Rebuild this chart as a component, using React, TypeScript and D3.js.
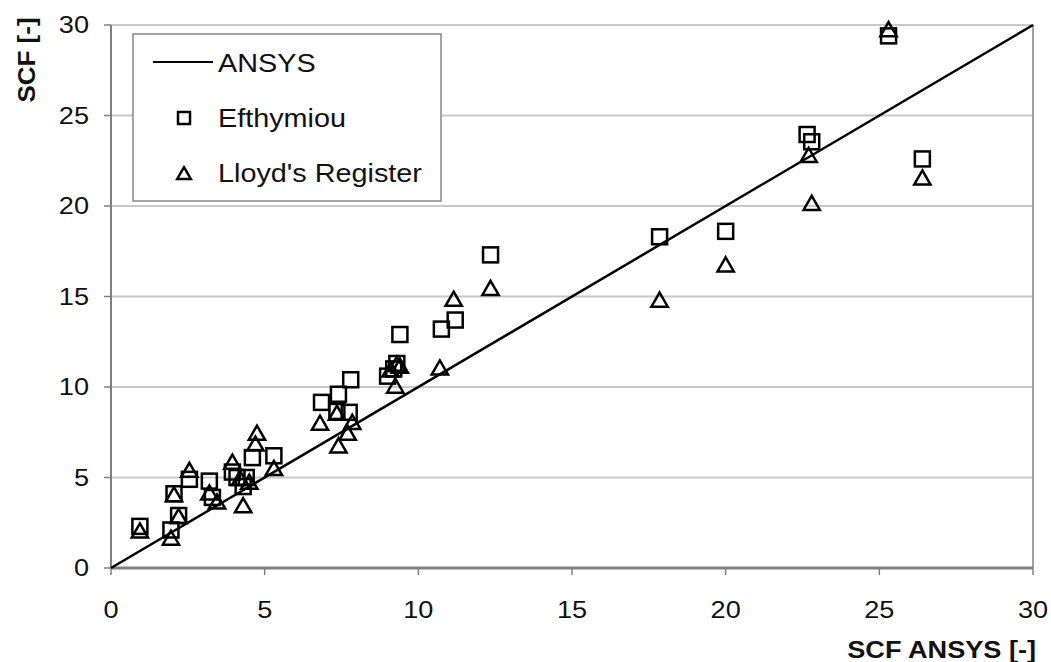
import * as d3 from 'd3';
import React from 'react';

// [SCF ANSYS, SCF formula]
const efthymiou: [number, number][] = [
  [0.94, 2.3], [1.95, 2.1], [2.05, 4.1], [2.2, 2.9], [2.55, 4.9], [3.2, 4.8],
  [3.3, 3.9], [3.95, 5.3], [4.1, 5.0], [4.3, 4.5], [4.4, 5.0], [4.6, 6.1],
  [5.3, 6.2], [6.85, 9.15], [7.35, 8.65], [7.4, 9.6], [7.75, 8.6], [7.8, 10.4],
  [9.0, 10.6], [9.2, 11.0], [9.3, 11.3], [9.4, 12.9], [10.75, 13.2], [11.2, 13.7],
  [12.35, 17.3], [17.85, 18.3], [20.0, 18.6], [22.65, 23.95], [22.8, 23.55],
  [25.3, 29.4], [26.4, 22.6],
];

const lloyds: [number, number][] = [
  [0.94, 2.0], [1.95, 1.6], [2.05, 4.0], [2.2, 2.8], [2.55, 5.35], [3.2, 4.1],
  [3.45, 3.6], [3.95, 5.8], [4.2, 4.9], [4.3, 3.4], [4.5, 4.7], [4.75, 7.4],
  [4.7, 6.8], [5.3, 5.45], [6.8, 7.95], [7.35, 8.5], [7.4, 6.7], [7.7, 7.4],
  [7.85, 8.0], [9.1, 10.9], [9.25, 10.0], [9.3, 11.2], [9.4, 11.1], [10.7, 11.0],
  [11.15, 14.8], [12.35, 15.4], [17.85, 14.75], [20.0, 16.7], [22.7, 22.75],
  [22.8, 20.1], [25.3, 29.7], [26.4, 21.5],
];

const ansysLine: [number, number][] = [[0, 0], [30, 30]];
const xTicks = [0, 5, 10, 15, 20, 25, 30];
const yTicks = [0, 5, 10, 15, 20, 25, 30];

const W = 1051;
const H = 662;
const left = 111, right = 1033, top = 25, bottom = 568;
const font = 'Arial, "Liberation Sans", sans-serif';

// text slightly stretched sideways, like the scanned figure
function T({ x, y, size, anchor = 'start', bold = false, rotate = 0, children }: any) {
  return (
    <text transform={`translate(${x},${y}) rotate(${rotate}) scale(1.13,1)`} textAnchor={anchor}
      fontSize={size} fontWeight={bold ? 'bold' : 'normal'} fontFamily={font} fill="#111">{children}</text>
  );
}

export default function App() {
  const x = d3.scaleLinear().domain([0, 30]).range([left, right]);
  const y = d3.scaleLinear().domain([0, 30]).range([bottom, top]);
  const line = d3.line<[number, number]>().x(d => x(d[0])).y(d => y(d[1]));
  const tri = d3.symbol().type(d3.symbolTriangle).size(115)();
  const sq = 15;

  return (
    <svg width={W} height={H} style={{ position: 'absolute', left: 0, top: 0, background: '#fff' }}>
      {/* grid */}
      {yTicks.slice(1).map(t => (
        <line key={'g' + t} x1={left} x2={right} y1={y(t)} y2={y(t)} stroke="#c8c8c8" strokeWidth={2} />
      ))}
      <line x1={right} x2={right} y1={top} y2={bottom} stroke="#a0a0a0" strokeWidth={2} />

      {/* axes */}
      <line x1={left} x2={left} y1={top} y2={bottom} stroke="#808080" strokeWidth={2} />
      <line x1={left} x2={right} y1={bottom} y2={bottom} stroke="#808080" strokeWidth={3} />
      {xTicks.map(t => (
        <g key={'x' + t}>
          <line x1={x(t)} x2={x(t)} y1={bottom} y2={bottom + 7} stroke="#808080" strokeWidth={1.5} />
          <T x={x(t)} y={618} size={24} anchor="middle">{t}</T>
        </g>
      ))}
      {yTicks.map(t => (
        <g key={'y' + t}>
          <line x1={left - 7} x2={left} y1={y(t)} y2={y(t)} stroke="#808080" strokeWidth={1.5} />
          <T x={89} y={y(t) + 8} size={24} anchor="end">{t}</T>
        </g>
      ))}

      {/* ANSYS */}
      <path d={line(ansysLine) ?? ''} stroke="#000" strokeWidth={2.5} fill="none" />

      {efthymiou.map((d, i) => (
        <rect key={'e' + i} x={x(d[0]) - sq / 2} y={y(d[1]) - sq / 2} width={sq} height={sq}
          fill="none" stroke="#000" strokeWidth={2.5} />
      ))}
      {lloyds.map((d, i) => (
        <path key={'l' + i} d={tri ?? ''} transform={`translate(${x(d[0])},${y(d[1]) + 1})`}
          fill="none" stroke="#000" strokeWidth={2.5} />
      ))}

      {/* legend */}
      <rect x={133} y={34} width={308} height={167} fill="#fff" stroke="#888" strokeWidth={1.5} />
      <line x1={153} x2={213} y1={62} y2={62} stroke="#000" strokeWidth={2} />
      <T x={218} y={72} size={25.5}>ANSYS</T>
      <rect x={178} y={112} width={12} height={12} fill="none" stroke="#000" strokeWidth={2.5} />
      <T x={218} y={127} size={25.5}>Efthymiou</T>
      <path d={d3.symbol().type(d3.symbolTriangle).size(80)() ?? ''} transform="translate(184,175)"
        fill="none" stroke="#000" strokeWidth={2.5} />
      <T x={218} y={182} size={25.5}>Lloyd's Register</T>

      {/* titles */}
      <T x={35} y={60} size={23} anchor="middle" bold rotate={-90}>SCF [-]</T>
      <T x={1036} y={658} size={24} anchor="end" bold>SCF ANSYS [-]</T>
    </svg>
  );
}
